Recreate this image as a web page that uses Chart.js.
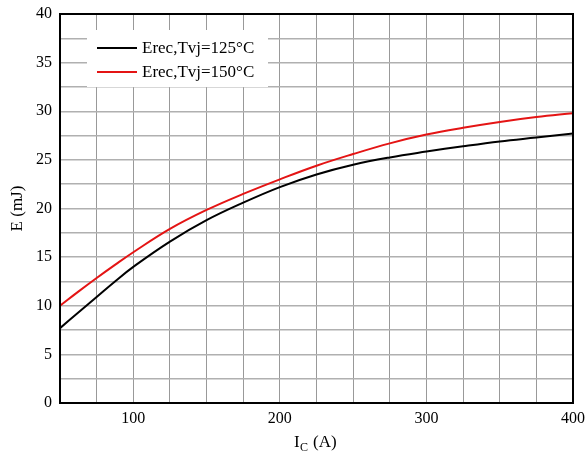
<!DOCTYPE html>
<html lang="en">
<head>
    <meta charset="UTF-8">
    <title>Erec vs Ic</title>
    <script src="https://cdn.jsdelivr.net/npm/chart.js"></script>
    <style>
        html, body { margin: 0; padding: 0; background: #fff; }
        #wrap { width: 585px; height: 456px; }
    </style>
</head>
<body>
    <div id="wrap"><canvas id="erecChart" width="585" height="456"></canvas></div>

    <script>
        // Collector current (A)
        const currentA = [50, 62.5, 75, 87.5, 100, 125, 150, 175, 200, 225, 250, 275, 300, 325, 350, 375, 400];
        // Erec (mJ)
        const erec125 = [7.7, 9.3, 10.9, 12.5, 14.0, 16.6, 18.8, 20.6, 22.2, 23.5, 24.5, 25.25, 25.85, 26.4, 26.9, 27.3, 27.7];
        const erec150 = [10.0, 11.45, 12.85, 14.2, 15.5, 17.9, 19.85, 21.5, 23.0, 24.4, 25.6, 26.7, 27.6, 28.3, 28.9, 29.4, 29.8];
        const seriesLabels = ['Erec,Tvj=125°C', 'Erec,Tvj=150°C'];
        const xTickLabels = [100, 200, 300, 400];
        const yTickLabels = [0, 5, 10, 15, 20, 25, 30, 35, 40];

        const serif = '"Liberation Serif", "Times New Roman", serif';

        function toPoints(ys) {
            return currentA.map((x, i) => ({ x: x, y: ys[i] }));
        }

        // frame, legend and axis titles drawn on top of the chart
        const decorations = {
            id: 'decorations',
            afterDraw(chart) {
                const ctx = chart.ctx;
                const area = chart.chartArea;
                ctx.save();

                // legend box
                ctx.fillStyle = '#fff';
                ctx.fillRect(87, 30, 181, 57);
                ctx.font = '17px ' + serif;
                ctx.textBaseline = 'alphabetic';
                chart.data.datasets.forEach((ds, i) => {
                    const y = 48 + i * 24;
                    ctx.strokeStyle = ds.borderColor;
                    ctx.lineWidth = 2;
                    ctx.beginPath();
                    ctx.moveTo(97, y);
                    ctx.lineTo(137, y);
                    ctx.stroke();
                    ctx.fillStyle = '#000';
                    ctx.textAlign = 'left';
                    ctx.fillText(ds.label, 142, y + 5);
                });

                // plot frame
                ctx.strokeStyle = '#000';
                ctx.lineWidth = 2;
                ctx.strokeRect(area.left, area.top, area.right - area.left, area.bottom - area.top);

                // y title
                ctx.fillStyle = '#000';
                ctx.translate(22, (area.top + area.bottom) / 2);
                ctx.rotate(-Math.PI / 2);
                ctx.textAlign = 'center';
                ctx.font = '17px ' + serif;
                ctx.fillText('E (mJ)', 0, 0);
                ctx.setTransform(1, 0, 0, 1, 0, 0);

                // x title with subscript
                ctx.textAlign = 'left';
                ctx.font = '17px ' + serif;
                ctx.fillText('I', 294, 447);
                ctx.font = '12px ' + serif;
                ctx.fillText('C', 300, 451);
                ctx.font = '17px ' + serif;
                ctx.fillText('(A)', 313, 447);

                ctx.restore();
            }
        };

        const ctx = document.getElementById('erecChart').getContext('2d');
        new Chart(ctx, {
            type: 'line',
            data: {
                datasets: [
                    {
                        label: seriesLabels[0],
                        data: toPoints(erec125),
                        borderColor: '#000000',
                        borderWidth: 2,
                        pointRadius: 0,
                        tension: 0.4,
                        fill: false
                    },
                    {
                        label: seriesLabels[1],
                        data: toPoints(erec150),
                        borderColor: '#e41414',
                        borderWidth: 2,
                        pointRadius: 0,
                        tension: 0.4,
                        fill: false
                    }
                ]
            },
            options: {
                responsive: false,
                animation: false,
                layout: { padding: { top: 14, right: 12, left: 0, bottom: 0 } },
                plugins: {
                    legend: { display: false },
                    tooltip: { enabled: false }
                },
                scales: {
                    x: {
                        type: 'linear',
                        min: 50,
                        max: 400,
                        afterBuildTicks(scale) {
                            scale.ticks = [];
                            for (let v = 50; v <= 400; v += 25) scale.ticks.push({ value: v });
                        },
                        afterFit(scale) {
                            scale.height = 53;
                            scale.paddingLeft = 0;
                            scale.paddingRight = 0;
                        },
                        ticks: {
                            color: '#000',
                            font: { family: serif, size: 16 },
                            padding: 6,
                            maxRotation: 0,
                            autoSkip: false,
                            callback: v => xTickLabels.includes(v) ? String(v) : ''
                        },
                        grid: { color: '#999999', lineWidth: 1, drawTicks: false },
                        border: { color: '#000', width: 2 }
                    },
                    y: {
                        min: 0,
                        max: 40,
                        afterBuildTicks(scale) {
                            scale.ticks = [];
                            for (let v = 0; v <= 40; v += 2.5) scale.ticks.push({ value: v });
                        },
                        afterFit(scale) {
                            scale.width = 60;
                            scale.paddingTop = 0;
                            scale.paddingBottom = 0;
                        },
                        ticks: {
                            color: '#000',
                            font: { family: serif, size: 16 },
                            padding: 8,
                            autoSkip: false,
                            callback: v => yTickLabels.includes(v) ? String(v) : ''
                        },
                        grid: { color: '#b0b0b0', lineWidth: 1.5, drawTicks: false },
                        border: { color: '#000', width: 2 }
                    }
                }
            },
            plugins: [decorations]
        });
    </script>
</body>
</html>
